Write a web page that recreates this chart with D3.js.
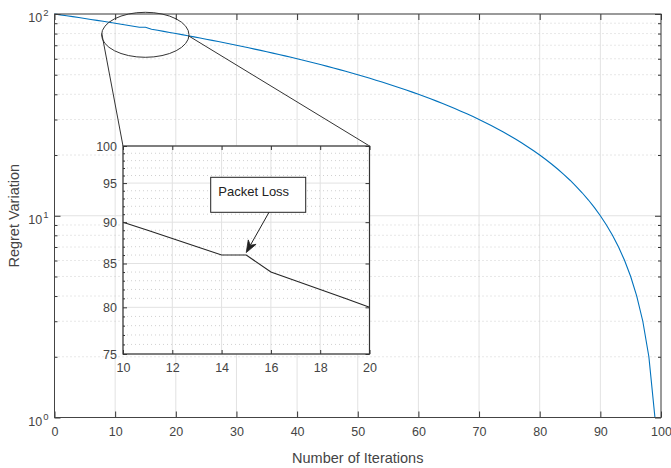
<!DOCTYPE html>
<html>
<head>
<meta charset="utf-8">
<script src="https://cdn.jsdelivr.net/npm/d3@7"></script>
<style>
  body { margin: 0; background: #fff; }
  svg text { font-family: "Liberation Sans", Arial, Helvetica, sans-serif; fill: #444; }
  .domain { display: none; }
  .tick line { stroke: #333; }
</style>
</head>
<body>
<div id="chart"></div>
<script>
// data
var iterations = [0,1,2,3,4,5,6,7,8,9,10,11,12,13,14,15,16,17,18,19,20,21,22,23,24,25,26,27,28,29,
  30,31,32,33,34,35,36,37,38,39,40,41,42,43,44,45,46,47,48,49,50,51,52,53,54,55,56,57,58,59,
  60,61,62,63,64,65,66,67,68,69,70,71,72,73,74,75,76,77,78,79,80,81,82,83,84,85,86,87,88,89,
  90,91,92,93,94,95,96,97,98,99];
var regret = [100,99,98,97,96,95,94,93,92,91,90,89,88,87,86,86,84,83,82,81,80,79,78,77,76,75,74,73,72,71,
  70,69,68,67,66,65,64,63,62,61,60,59,58,57,56,55,54,53,52,51,50,49,48,47,46,45,44,43,42,41,
  40,39,38,37,36,35,34,33,32,31,30,29,28,27,26,25,24,23,22,21,20,19,18,17,16,15,14,13,12,11,
  10,9,8,7,6,5,4,3,2,1];
var xTicks = [0,10,20,30,40,50,60,70,80,90,100];
var yTicks = [1,10,100];
var yMinor = [2,3,4,5,6,7,8,9,20,30,40,50,60,70,80,90];
var insetXTicks = [10,12,14,16,18,20];
var insetYTicks = [75,80,85,90,95,100];
var insetYMinor = [76,77,78,79,81,82,83,84,86,87,88,89,91,92,93,94,96,97,98,99];
var annotationText = "Packet Loss";
var xLabel = "Number of Iterations";
var yLabel = "Regret Variation";

var containerWidth = 671,
    containerHeight = 468,
    margins = { top: 14, right: 10, bottom: 50.5, left: 54.5 },
    width = containerWidth - margins.left - margins.right,
    height = containerHeight - margins.top - margins.bottom;

var pts = iterations.map(function(d, i) { return { x: d, y: regret[i] }; });

var svg = d3.select("#chart").append("svg")
    .attr("width", containerWidth)
    .attr("height", containerHeight);

var g = svg.append("g")
    .attr("transform", "translate(" + margins.left + "," + margins.top + ")");

var x = d3.scaleLinear().domain([0, 100]).range([0, width]);
var y = d3.scaleLog().domain([1, 100]).range([height, 0]);

// grid
g.selectAll(".xgrid").data(xTicks).enter().append("line")
    .attr("x1", function(d) { return x(d); }).attr("x2", function(d) { return x(d); })
    .attr("y1", 0).attr("y2", height)
    .attr("stroke", "#e2e2e2").attr("stroke-width", 1);
g.selectAll(".ymin").data(yMinor).enter().append("line")
    .attr("x1", 0).attr("x2", width)
    .attr("y1", function(d) { return y(d); }).attr("y2", function(d) { return y(d); })
    .attr("stroke", "#c4c4c4").attr("stroke-width", 0.8).attr("stroke-dasharray", "1,3");
g.selectAll(".ygrid").data(yTicks).enter().append("line")
    .attr("x1", 0).attr("x2", width)
    .attr("y1", function(d) { return y(d); }).attr("y2", function(d) { return y(d); })
    .attr("stroke", "#e2e2e2").attr("stroke-width", 1);

// main line
var line = d3.line().x(function(d) { return x(d.x); }).y(function(d) { return y(d.y); });
g.append("path").datum(pts)
    .attr("d", line)
    .attr("fill", "none").attr("stroke", "#0072BD").attr("stroke-width", 1.1);

// axes (ticks inward)
g.append("g").attr("transform", "translate(0," + height + ")")
    .call(d3.axisBottom(x).tickValues(xTicks).tickSize(-6).tickPadding(10))
    .selectAll("text").style("font-size", "12.5px");
g.append("g")
    .call(d3.axisTop(x).tickValues(xTicks).tickSize(-6).tickFormat(""));
var yAx = g.append("g")
    .call(d3.axisLeft(y).tickValues(yTicks).tickSize(-6).tickPadding(6).tickFormat(function() { return ""; }));
yAx.selectAll(".tick text").each(function(d) {
    var t = d3.select(this).style("font-size", "12.5px").attr("dy", "0.6em");
    t.append("tspan").text("10");
    t.append("tspan").attr("dx", "1").attr("dy", "-0.6em").style("font-size", "9.5px").text(Math.round(Math.log10(d)));
});
g.append("g").call(d3.axisLeft(y).tickValues(yMinor).tickSize(-3).tickFormat(""));
g.append("g").attr("transform", "translate(" + width + ",0)")
    .call(d3.axisRight(y).tickValues(yTicks).tickSize(-6).tickFormat(""));
g.append("g").attr("transform", "translate(" + width + ",0)")
    .call(d3.axisRight(y).tickValues(yMinor).tickSize(-3).tickFormat(""));
g.append("rect").attr("width", width).attr("height", height)
    .attr("fill", "none").attr("stroke", "#444").attr("stroke-width", 1);

// axis labels
g.append("text").attr("x", width / 2).attr("y", height + 45)
    .attr("text-anchor", "middle").style("font-size", "14.5px").text(xLabel);
g.append("text").attr("transform", "translate(" + (-36) + "," + (height / 2) + ") rotate(-90)")
    .attr("text-anchor", "middle").style("font-size", "14.5px").text(yLabel);

// zoom ellipse and connectors
var ell = { cx: 145.3, cy: 34.8, rx: 43.7, ry: 22.5 };
var inset = { left: 123, top: 146, right: 369.5, bottom: 354 };
svg.append("ellipse").attr("cx", ell.cx).attr("cy", ell.cy).attr("rx", ell.rx).attr("ry", ell.ry)
    .attr("fill", "none").attr("stroke", "#333").attr("stroke-width", 1);
svg.append("line").attr("x1", 101.8).attr("y1", 33.5).attr("x2", inset.left).attr("y2", inset.top)
    .attr("stroke", "#333").attr("stroke-width", 1);
svg.append("line").attr("x1", 188.8).attr("y1", 36).attr("x2", inset.right).attr("y2", inset.top)
    .attr("stroke", "#333").attr("stroke-width", 1);

// inset
var ig = svg.append("g").attr("transform", "translate(" + inset.left + "," + inset.top + ")");
var iw = inset.right - inset.left, ih = inset.bottom - inset.top;
var ix = d3.scaleLinear().domain([10, 20]).range([0, iw]);
var iy = d3.scaleLog().domain([75, 100]).range([ih, 0]);

ig.append("rect").attr("width", iw).attr("height", ih).attr("fill", "#fff");
ig.selectAll(".ixgrid").data(insetXTicks).enter().append("line")
    .attr("x1", function(d) { return ix(d); }).attr("x2", function(d) { return ix(d); })
    .attr("y1", 0).attr("y2", ih)
    .attr("stroke", "#e2e2e2").attr("stroke-width", 1);
ig.selectAll(".iymin").data(insetYMinor).enter().append("line")
    .attr("x1", 0).attr("x2", iw)
    .attr("y1", function(d) { return iy(d); }).attr("y2", function(d) { return iy(d); })
    .attr("stroke", "#c4c4c4").attr("stroke-width", 0.8).attr("stroke-dasharray", "1,3");
ig.selectAll(".iygrid").data(insetYTicks).enter().append("line")
    .attr("x1", 0).attr("x2", iw)
    .attr("y1", function(d) { return iy(d); }).attr("y2", function(d) { return iy(d); })
    .attr("stroke", "#e2e2e2").attr("stroke-width", 1);

var iline = d3.line().x(function(d) { return ix(d.x); }).y(function(d) { return iy(d.y); });
ig.append("path").datum(pts.filter(function(d) { return d.x >= 10 && d.x <= 20; }))
    .attr("d", iline)
    .attr("fill", "none").attr("stroke", "#262626").attr("stroke-width", 1.1);

ig.append("g").attr("transform", "translate(0," + ih + ")")
    .call(d3.axisBottom(ix).tickValues(insetXTicks).tickSize(-4).tickPadding(9))
    .selectAll("text").style("font-size", "12.5px");
ig.append("g").call(d3.axisTop(ix).tickValues(insetXTicks).tickSize(-4).tickFormat(""));
ig.append("g")
    .call(d3.axisLeft(iy).tickValues(insetYTicks).tickSize(-4).tickPadding(6).tickFormat(d3.format("d")))
    .selectAll("text").style("font-size", "12.5px");
ig.append("g").call(d3.axisLeft(iy).tickValues(insetYMinor).tickSize(-2).tickFormat(""));
ig.append("g").attr("transform", "translate(" + iw + ",0)")
    .call(d3.axisRight(iy).tickValues(insetYTicks).tickSize(-4).tickFormat(""));
ig.append("rect").attr("width", iw).attr("height", ih)
    .attr("fill", "none").attr("stroke", "#333").attr("stroke-width", 1.2);

// annotation
svg.append("rect").attr("x", 210.7).attr("y", 177.3).attr("width", 95).attr("height", 35)
    .attr("fill", "#fff").attr("stroke", "#222").attr("stroke-width", 1);
svg.append("text").attr("x", 218.3).attr("y", 196).style("font-size", "13px")
    .style("fill", "#222").text(annotationText);

var tip = { x: inset.left + ix(15), y: inset.top + iy(regret[15]) - 2.5 };
var tail = { x: 269, y: 212.3 };
var ang = Math.atan2(tip.y - tail.y, tip.x - tail.x);
var hl = 12, hw = 4.5;
var bx = tip.x - hl * Math.cos(ang), by = tip.y - hl * Math.sin(ang);
var mx = tip.x - hl * 0.7 * Math.cos(ang), my = tip.y - hl * 0.7 * Math.sin(ang);
svg.append("line").attr("x1", tail.x).attr("y1", tail.y).attr("x2", mx).attr("y2", my)
    .attr("stroke", "#222").attr("stroke-width", 1);
svg.append("path")
    .attr("d", "M" + tip.x + "," + tip.y +
      "L" + (bx + hw * Math.sin(ang)) + "," + (by - hw * Math.cos(ang)) +
      "L" + mx + "," + my +
      "L" + (bx - hw * Math.sin(ang)) + "," + (by + hw * Math.cos(ang)) + "Z")
    .attr("fill", "#222").attr("stroke", "#222").attr("stroke-width", 0.8);
</script>
</body>
</html>
